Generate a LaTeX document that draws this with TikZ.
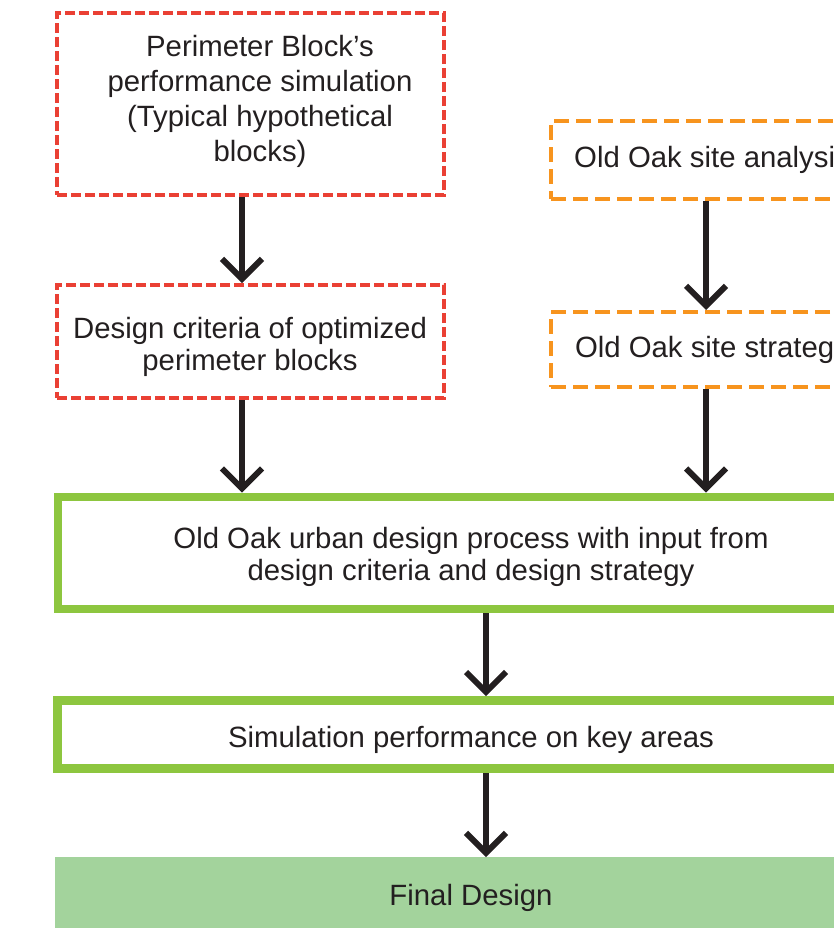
\documentclass[tikz,border=0pt]{standalone}
\usepackage{fontspec}
\setmainfont{Liberation Sans}
\usetikzlibrary{arrows.meta}

\definecolor{blockred}{RGB}{234,64,52}
\definecolor{siteorange}{RGB}{247,148,30}
\definecolor{processgreen}{RGB}{141,198,63}
\definecolor{finalgreen}{RGB}{163,211,156}
\definecolor{textgray}{RGB}{35,31,32}

\begin{document}
\begin{tikzpicture}[x=0.75pt, y=-0.75pt]
% ---------------------------------------------------------
% Dimensions (pixel units of the figure)
% ---------------------------------------------------------
\def\px{0.75pt}      % one figure pixel
\def\LeftCol{242}    % x of the arrows under the red boxes
\def\RightCol{706}   % x of the arrows under the orange boxes
\def\MidCol{486}     % x of the arrows in the main column

% ---------------------------------------------------------
% Styles
% ---------------------------------------------------------
\tikzset{
  box text/.style={font=\fontsize{22}{24}\selectfont, align=center, text=textgray},
  tall text/.style={box text, font=\fontsize{22}{26.25}\selectfont},
  red box/.style={draw=blockred, line width=3pt,
    dash pattern=on 7.5pt off 3pt},
  orange box/.style={draw=siteorange, line width=3pt,
    dash pattern=on 11pt off 5.5pt},
  green box/.style={draw=processgreen, line width=6.4pt},
  final box/.style={fill=finalgreen},
  flow arrow/.style={draw=textgray, line width=4.5pt,
    -{Straight Barb[length=15pt, width=30pt]}}
}

% frame of the figure (the right side is cut off)
\useasboundingbox (0,0) rectangle (834,928);
\clip (0,0) rectangle (834,928);

\coordinate (lcol) at (\LeftCol,0);
\coordinate (rcol) at (\RightCol,0);
\coordinate (mcol) at (\MidCol,0);

% =========================================================
% 1) LEFT COLUMN: perimeter block study
% =========================================================
\node[red box, minimum width=387*\px, minimum height=182*\px] (perim) at (250.5,104) {};
\node[tall text] (perimtxt) at (260,101.5)
  {Perimeter Block’s\\performance simulation\\(Typical hypothetical\\blocks)};

\node[red box, minimum width=387*\px, minimum height=113*\px] (crit) at (250.5,341.5) {};
\node[box text] (crittxt) at (250,347)
  {Design criteria of optimized\\perimeter blocks};

% =========================================================
% 2) RIGHT COLUMN: site study (cut at the right edge)
% =========================================================
\node[orange box, minimum width=322*\px, minimum height=78*\px] (analysis) at (712,160) {};
\node[box text] (analysistxt) at (712,160) {Old Oak site analysis};

\node[orange box, minimum width=322*\px, minimum height=75*\px] (strategy) at (712,349.5) {};
\node[box text] (strategytxt) at (712,349.5) {Old Oak site strategy};

% =========================================================
% 3) MAIN COLUMN: design process
% =========================================================
\node[green box, minimum width=826*\px, minimum height=112*\px] (process) at (471,553) {};
\node[box text] (processtxt) at (471,556.5)
  {Old Oak urban design process with input from\\design criteria and design strategy};

\node[green box, minimum width=827*\px, minimum height=68*\px] (simul) at (471,734.5) {};
\node[box text] (simultxt) at (471,739.5) {Simulation performance on key areas};

\node[final box, anchor=north, minimum width=833*\px, minimum height=75*\px] (final) at (471.5,857) {};
\node[box text] (finaltxt) at (471,898) {Final Design};

% =========================================================
% 4) ARROWS
% =========================================================
\draw[flow arrow] (perim.south -| lcol) -- (crit.north -| lcol);
\draw[flow arrow] (crit.south -| lcol) -- (process.north -| lcol);
\draw[flow arrow] (analysis.south -| rcol) -- (strategy.north -| rcol);
\draw[flow arrow] (strategy.south -| rcol) -- (process.north -| rcol);
\draw[flow arrow] (process.south -| mcol) -- (simul.north -| mcol);
\draw[flow arrow] (simul.south -| mcol) -- (final.north -| mcol);

\end{tikzpicture}
\end{document}
